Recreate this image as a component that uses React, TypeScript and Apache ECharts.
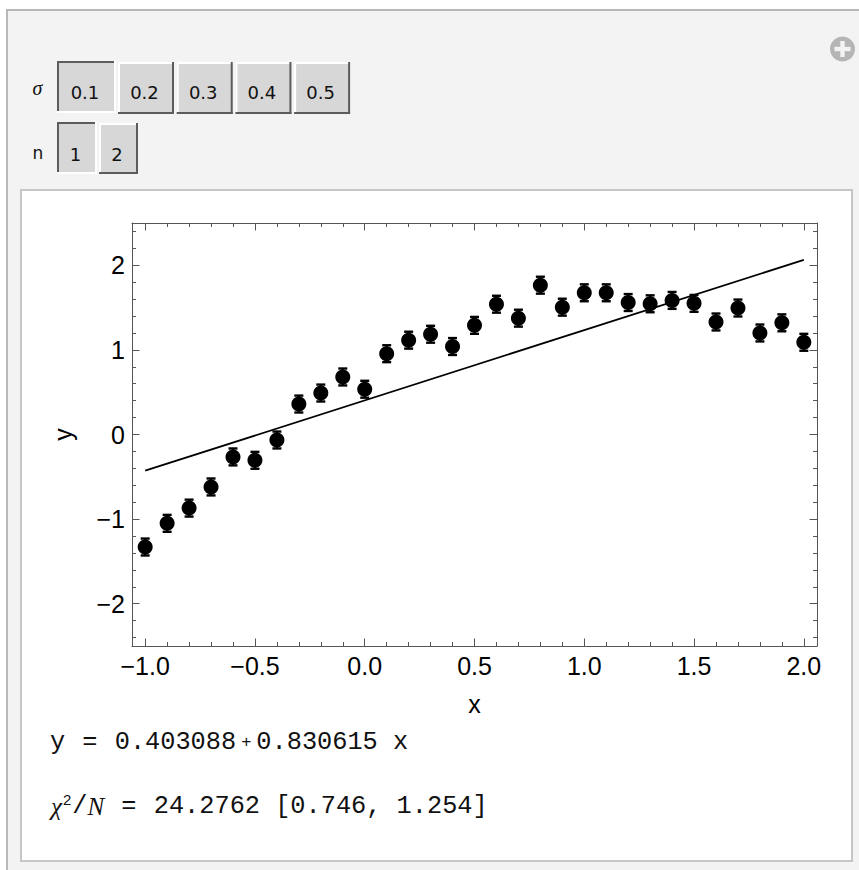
import React, { useEffect, useRef } from 'react';
import * as echarts from 'echarts';

// ---------- data ----------
const xValues = [-1.0, -0.9, -0.8, -0.7, -0.6, -0.5, -0.4, -0.3, -0.2, -0.1, 0.0, 0.1, 0.2, 0.3, 0.4, 0.5, 0.6, 0.7, 0.8, 0.9, 1.0, 1.1, 1.2, 1.3, 1.4, 1.5, 1.6, 1.7, 1.8, 1.9, 2.0];
const yValues = [-1.33, -1.05, -0.87, -0.62, -0.265, -0.305, -0.065, 0.36, 0.49, 0.68, 0.535, 0.955, 1.115, 1.185, 1.04, 1.29, 1.54, 1.375, 1.765, 1.505, 1.675, 1.675, 1.56, 1.545, 1.585, 1.55, 1.33, 1.495, 1.2, 1.32, 1.09];
const yErrors = [0.1, 0.1, 0.1, 0.1, 0.1, 0.1, 0.1, 0.1, 0.1, 0.1, 0.1, 0.1, 0.1, 0.1, 0.1, 0.1, 0.1, 0.1, 0.1, 0.1, 0.1, 0.1, 0.1, 0.1, 0.1, 0.1, 0.1, 0.1, 0.1, 0.1, 0.1];
const fitX = [-1.0, 2.0];
const fitY = [-0.4275, 2.0643];

const xMajorTicks = [-1, -0.5, 0, 0.5, 1, 1.5, 2];
const xTickLabels = ['\u22121.0', '\u22120.5', '0.0', '0.5', '1.0', '1.5', '2.0'];
const xMinorTicks = [-1.0, -0.9, -0.8, -0.7, -0.6, -0.5, -0.4, -0.3, -0.2, -0.1, 0.0, 0.1, 0.2, 0.3, 0.4, 0.5, 0.6, 0.7, 0.8, 0.9, 1.0, 1.1, 1.2, 1.3, 1.4, 1.5, 1.6, 1.7, 1.8, 1.9, 2.0];
const yMajorTicks = [-2, -1, 0, 1, 2];
const yTickLabels = ['\u22122', '\u22121', '0', '1', '2'];
const yMinorTicks = [-2.4, -2.2, -2.0, -1.8, -1.6, -1.4, -1.2, -1.0, -0.8, -0.6, -0.4, -0.2, 0.0, 0.2, 0.4, 0.6, 0.8, 1.0, 1.2, 1.4, 1.6, 1.8, 2.0, 2.2, 2.4];

const sigmaOptions = ['0.1', '0.2', '0.3', '0.4', '0.5'];
const nOptions = ['1', '2'];
const fitIntercept = '0.403088';
const fitSlope = '0.830615';
const chiValue = '24.2762';
const chiInterval = '[0.746, 1.254]';

// ---------- helpers ----------
const AXIS_COLOR = '#555';
const X_MIN = -1.06, X_MAX = 2.06, Y_MIN = -2.5, Y_MAX = 2.5;

const labelFor = (ticks: number[], labels: string[]) => (v: number) => {
  const i = ticks.findIndex((t) => Math.abs(t - v) < 1e-9);
  return i >= 0 ? labels[i] : '';
};

function button(x: number, y: number, w: number, h: number, label: string, pressed: boolean, labelY: number) {
  const dark = '#5c5c5c';
  const light = '#ffffff';
  const tl = pressed ? dark : light;
  const br = pressed ? light : dark;
  return {
    type: 'group',
    z: 1,
    children: [
      { type: 'rect', z: 1, shape: { x, y, width: w, height: h }, style: { fill: '#d7d7d7' } },
      { type: 'line', z: 2, shape: { x1: x, y1: y + 1, x2: x + w, y2: y + 1 }, style: { stroke: tl, lineWidth: 2 } },
      { type: 'line', z: 2, shape: { x1: x + 1, y1: y, x2: x + 1, y2: y + h }, style: { stroke: tl, lineWidth: 2 } },
      { type: 'line', z: 2, shape: { x1: x, y1: y + h - 1, x2: x + w, y2: y + h - 1 }, style: { stroke: br, lineWidth: 2 } },
      { type: 'line', z: 2, shape: { x1: x + w - 1, y1: y, x2: x + w - 1, y2: y + h }, style: { stroke: br, lineWidth: 2 } },
      {
        type: 'text', z: 3,
        style: {
          x: x + w / 2 - 1.5, y: labelY, text: label,
          fontFamily: 'DejaVu Sans', fontSize: 18, fill: '#111',
          align: 'center', verticalAlign: 'middle', textAlign: 'center', textVerticalAlign: 'middle',
        },
      },
    ],
  };
}

const graphics: any[] = [];
// outer panel
graphics.push({ type: 'rect', z: -10, shape: { x: 7, y: 10, width: 880, height: 900 }, style: { fill: '#f3f3f3', stroke: '#b8b8b8', lineWidth: 2 } });
// inner white pane
graphics.push({ type: 'rect', z: -9, shape: { x: 21, y: 190, width: 831, height: 671 }, style: { fill: '#ffffff', stroke: '#c6c6c6', lineWidth: 2 } });
// plus icon
graphics.push({ type: 'circle', z: 1, shape: { cx: 842.5, cy: 49, r: 12.5 }, style: { fill: '#b5b5b5' } });
graphics.push({ type: 'rect', z: 2, shape: { x: 834.5, y: 46.8, width: 16, height: 4.4 }, style: { fill: '#f3f3f3' } });
graphics.push({ type: 'rect', z: 2, shape: { x: 840.3, y: 41, width: 4.4, height: 16 }, style: { fill: '#f3f3f3' } });
// control labels
graphics.push({
  type: 'text', z: 3,
  style: { x: 37.5, y: 88, text: '\u03c3', fontFamily: 'Liberation Serif', fontStyle: 'italic', fontSize: 20, fill: '#111', align: 'center', verticalAlign: 'middle', textAlign: 'center', textVerticalAlign: 'middle' },
});
graphics.push({
  type: 'text', z: 3,
  style: { x: 38, y: 153, text: 'n', fontFamily: 'DejaVu Sans', fontSize: 17, fill: '#111', align: 'center', verticalAlign: 'middle', textAlign: 'center', textVerticalAlign: 'middle' },
});
// sigma buttons
sigmaOptions.forEach((s, i) => {
  if (i === 0) graphics.push(button(57, 61, 59, 52, s, true, 92));
  else graphics.push(button(118 + (i - 1) * 58.7, 62, 56, 52, s, false, 92));
});
// n buttons
nOptions.forEach((s, i) => {
  if (i === 0) graphics.push(button(57, 122, 40, 52, s, true, 154));
  else graphics.push(button(99, 123, 39, 51, s, false, 154));
});

const MONO_SIZE = 25.3;
const mono = { fontFamily: 'Liberation Mono', fontSize: MONO_SIZE, fill: '#111', color: '#111' };
// fit formula
graphics.push({
  type: 'text', z: 3,
  style: {
    x: 50, y: 742.5,
    text: `{m|y}{eq| = }{m|${fitIntercept}}{op|+}{m|${fitSlope}}{sp| }{m|x}`,
    align: 'left', verticalAlign: 'middle', textAlign: 'left', textVerticalAlign: 'middle',
    rich: {
      m: { ...mono },
      eq: { ...mono, padding: [0, 2] },
      op: { fontFamily: 'Liberation Mono', fontSize: 17, fill: '#111', color: '#111', padding: [0, 5] },
      sp: { fontFamily: 'Liberation Mono', fontSize: 12, fill: '#111', color: '#111', padding: [0, 4] },
    },
  },
});
// chi-square line
graphics.push({
  type: 'text', z: 3,
  style: {
    x: 51, y: 806,
    text: `{it|\u03c7}{sup|2}{m|/}{it|N}{eq| = }{m|${chiValue} ${chiInterval}}`,
    align: 'left', verticalAlign: 'middle', textAlign: 'left', textVerticalAlign: 'middle',
    rich: {
      m: { ...mono },
      eq: { ...mono, padding: [0, 2] },
      it: { fontFamily: 'Liberation Serif', fontStyle: 'italic', fontSize: 25, fill: '#111', color: '#111' },
      sup: { fontFamily: 'Liberation Sans', fontSize: 15, fill: '#111', color: '#111', padding: [0, 1, 13, 1] },
    },
  },
});

const tickLine = { color: AXIS_COLOR, width: 1 };
const xBase = { type: 'value', min: X_MIN, max: X_MAX, gridIndex: 0, splitLine: { show: false } };
const yBase = { type: 'value', min: Y_MIN, max: Y_MAX, gridIndex: 0, splitLine: { show: false } };
const labelFont = { fontFamily: 'Liberation Sans', fontSize: 25, color: '#000' };

const option: any = {
  animation: false,
  backgroundColor: 'transparent',
  graphic: graphics,
  grid: { left: 132, top: 223, width: 685, height: 423, show: false },
  xAxis: [
    {
      ...xBase, position: 'bottom',
      axisLine: { show: true, onZero: false, lineStyle: { color: AXIS_COLOR, width: 1 } },
      axisTick: { show: true, inside: true, length: 7.5, customValues: xMajorTicks, lineStyle: tickLine },
      axisLabel: { show: true, customValues: xMajorTicks, formatter: labelFor(xMajorTicks, xTickLabels), margin: 7.5, ...labelFont },
      name: 'x', nameLocation: 'middle', nameGap: 45, nameTextStyle: { ...labelFont },
    },
    {
      ...xBase, position: 'bottom',
      axisLine: { show: false, onZero: false },
      axisTick: { show: true, inside: true, length: 4, customValues: xMinorTicks, lineStyle: tickLine },
      axisLabel: { show: false },
    },
    {
      ...xBase, position: 'top',
      axisLine: { show: true, onZero: false, lineStyle: { color: AXIS_COLOR, width: 1 } },
      axisTick: { show: true, inside: true, length: 7.5, customValues: xMajorTicks, lineStyle: tickLine },
      axisLabel: { show: false },
    },
    {
      ...xBase, position: 'top',
      axisLine: { show: false, onZero: false },
      axisTick: { show: true, inside: true, length: 4, customValues: xMinorTicks, lineStyle: tickLine },
      axisLabel: { show: false },
    },
  ],
  yAxis: [
    {
      ...yBase, position: 'left',
      axisLine: { show: true, onZero: false, lineStyle: { color: AXIS_COLOR, width: 1 } },
      axisTick: { show: true, inside: true, length: 7.5, customValues: yMajorTicks, lineStyle: tickLine },
      axisLabel: { show: true, customValues: yMajorTicks, formatter: labelFor(yMajorTicks, yTickLabels), margin: 7, ...labelFont },
      name: 'y', nameLocation: 'middle', nameGap: 57, nameRotate: 90, nameTextStyle: { ...labelFont },
    },
    {
      ...yBase, position: 'left',
      axisLine: { show: false, onZero: false },
      axisTick: { show: true, inside: true, length: 4, customValues: yMinorTicks, lineStyle: tickLine },
      axisLabel: { show: false },
    },
    {
      ...yBase, position: 'right',
      axisLine: { show: true, onZero: false, lineStyle: { color: AXIS_COLOR, width: 1 } },
      axisTick: { show: true, inside: true, length: 7.5, customValues: yMajorTicks, lineStyle: tickLine },
      axisLabel: { show: false },
    },
    {
      ...yBase, position: 'right',
      axisLine: { show: false, onZero: false },
      axisTick: { show: true, inside: true, length: 4, customValues: yMinorTicks, lineStyle: tickLine },
      axisLabel: { show: false },
    },
  ],
  series: [
    {
      type: 'line',
      xAxisIndex: 0, yAxisIndex: 0,
      data: fitX.map((x, i) => [x, fitY[i]]),
      showSymbol: false,
      symbol: 'none',
      lineStyle: { color: '#000', width: 1.8 },
      z: 2,
      silent: true,
    },
    {
      type: 'custom',
      xAxisIndex: 0, yAxisIndex: 0,
      data: xValues.map((x, i) => [x, yValues[i], yErrors[i]]),
      encode: { x: 0, y: 1 },
      z: 3,
      silent: true,
      renderItem: (params: any, api: any) => {
        const x = api.value(0);
        const y = api.value(1);
        const e = api.value(2);
        const top = api.coord([x, y + e]);
        const bot = api.coord([x, y - e]);
        const hw = 4.5;
        const st = { stroke: '#000', lineWidth: 2.4 };
        return {
          type: 'group',
          children: [
            { type: 'line', shape: { x1: top[0], y1: top[1], x2: bot[0], y2: bot[1] }, style: st },
            { type: 'line', shape: { x1: top[0] - hw, y1: top[1], x2: top[0] + hw, y2: top[1] }, style: st },
            { type: 'line', shape: { x1: bot[0] - hw, y1: bot[1], x2: bot[0] + hw, y2: bot[1] }, style: st },
          ],
        };
      },
    },
    {
      type: 'scatter',
      xAxisIndex: 0, yAxisIndex: 0,
      data: xValues.map((x, i) => [x, yValues[i]]),
      symbol: 'circle',
      symbolSize: 15,
      itemStyle: { color: '#000', opacity: 1 },
      z: 4,
      silent: true,
    },
  ],
};

export default function App() {
  const ref = useRef<HTMLDivElement>(null);
  useEffect(() => {
    if (!ref.current) return;
    const chart = echarts.init(ref.current, null, { renderer: 'svg' });
    chart.setOption(option);
    return () => chart.dispose();
  }, []);
  return <div ref={ref} style={{ position: 'absolute', left: 0, top: 0, width: 859, height: 870 }} />;
}
